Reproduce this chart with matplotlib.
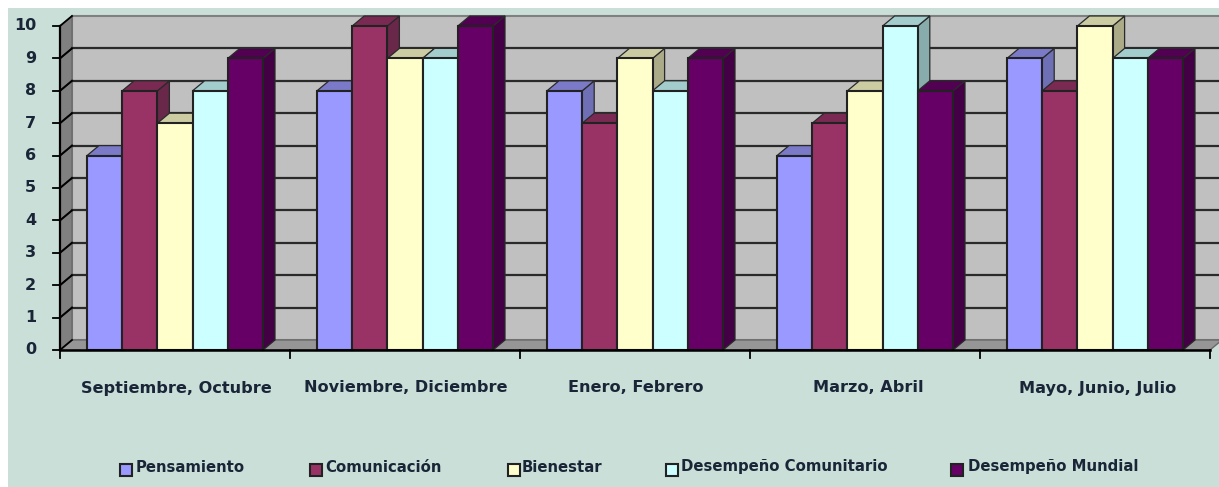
import matplotlib
matplotlib.use("Agg")
import matplotlib.pyplot as plt
from matplotlib.patches import Polygon, Rectangle

categories = ["Septiembre, Octubre", "Noviembre, Diciembre", "Enero, Febrero", "Marzo, Abril", "Mayo, Junio, Julio"]
series_names = ["Pensamiento", "Comunicación", "Bienestar", "Desempeño Comunitario", "Desempeño Mundial"]
pensamiento = [6, 8, 8, 6, 9]
comunicacion = [8, 10, 7, 7, 8]
bienestar = [7, 9, 9, 8, 10]
comunitario = [8, 9, 8, 10, 9]
mundial = [9, 10, 9, 8, 9]
series = [pensamiento, comunicacion, bienestar, comunitario, mundial]
front = ["#9999FF", "#993366", "#FFFFCC", "#CCFFFF", "#660066"]
top = ["#7A7AC8", "#7A2A52", "#CCCCA3", "#A3CCCC", "#520052"]
side = ["#6F6FB5", "#69274A", "#ABAB88", "#88ABAB", "#440044"]

W, H = 1219, 487
plt.rcParams["font.family"] = ["DejaVu Sans"]
fig = plt.figure(figsize=(W / 100, H / 100), dpi=100, facecolor="white")

# chart-area background
fig.patches.append(Rectangle((8 / W, 0), (W - 8) / W, (H - 8) / H, transform=fig.transFigure,
                             facecolor="#C9DFD7", edgecolor="none", zorder=-5))

L, R, T, B = 60, 1210, 26, 350
ax = fig.add_axes([L / W, 1 - B / H, (R - L) / W, (B - T) / H])
ax.set_xlim(0, 5)
ax.set_ylim(0, 10)
ax.patch.set_alpha(0)
ax.set_axis_off()

dx = 12 / 230
dy = 10 / 32.4
lw = 1.5
kw = dict(clip_on=False)

# walls and floor
ax.add_patch(Polygon([(dx, dy), (5 + dx, dy), (5 + dx, 10 + dy), (dx, 10 + dy)], fc="#C0C0C0", ec="#808080", lw=1.5, zorder=1, **kw))
ax.add_patch(Polygon([(0, 0), (dx, dy), (dx, 10 + dy), (0, 10)], fc="#808080", ec="#6a6a6a", lw=1, zorder=1, **kw))
ax.add_patch(Polygon([(0, 0), (5, 0), (5 + dx, dy), (dx, dy)], fc="#969696", ec="#6a6a6a", lw=1, zorder=1, **kw))

# gridlines
for v in range(1, 10):
    ax.plot([dx, 5 + dx], [v + dy, v + dy], color="#2a2a2a", lw=1.6, zorder=2, **kw)
    ax.plot([0, dx], [v, v + dy], color="#2a2a2a", lw=1.3, zorder=2, **kw)

# axes and ticks
ax.plot([0, 0], [0, 10], color="black", lw=1.6, zorder=3, **kw)
ax.plot([0, 5], [0, 0], color="black", lw=1.8, zorder=8, **kw)
for v in range(0, 11):
    ax.plot([-7 / 230, 0], [v, v], color="black", lw=1.3, zorder=3, **kw)
    ax.plot([0, dx], [v, v + dy], color="black", lw=1.3, zorder=3, **kw)
    ax.text(-24 / 230, v, str(v), ha="right", va="center", fontsize=11.5, fontweight="bold", color="#1a2638")
for g in range(6):
    ax.plot([g, g], [0, -8 / 32.4], color="black", lw=1.3, zorder=3, **kw)

# bars
offset = 27 / 230
bw = 35.2 / 230
label_shift = [1, 1, 1, 3, 3]
for g, cat in enumerate(categories):
    for s, vals in enumerate(series):
        v = vals[g]
        x0 = g + offset + s * bw
        x1 = x0 + bw
        z = 4 + g * 0.1 + s * 0.01
        ax.add_patch(Polygon([(x1, 0), (x1 + dx, dy), (x1 + dx, v + dy), (x1, v)], fc=side[s], ec="#2a2a2a", lw=0.9, zorder=z, **kw))
        ax.add_patch(Polygon([(x0, v), (x1, v), (x1 + dx, v + dy), (x0 + dx, v + dy)], fc=top[s], ec="#2a2a2a", lw=0.9, zorder=z, **kw))
        ax.bar(x0, v, width=bw, align="edge", color=front[s], edgecolor="#222222", lw=lw, zorder=z + 0.001, clip_on=False)
    ax.text(g + 0.5 + label_shift[g] / 230, -38 / 32.4, cat, ha="center", va="center", fontsize=11.6, fontweight="bold", color="#1a2638")

# legend
leg_sq = [120, 310, 508, 666, 951]
leg_tx = [136, 325, 522, 681, 968]
for s, name in enumerate(series_names):
    fig.patches.append(Rectangle((leg_sq[s] / W, 1 - 476 / H), 12 / W, 12 / H, transform=fig.transFigure,
                                 facecolor=front[s], edgecolor="#222222", lw=1.5))
    fig.text(leg_tx[s] / W, 1 - 467 / H, name, ha="left", va="center", fontsize=10.7, color="#1a2638", fontweight="semibold")

fig.savefig("out.png", dpi=100, facecolor="white")
